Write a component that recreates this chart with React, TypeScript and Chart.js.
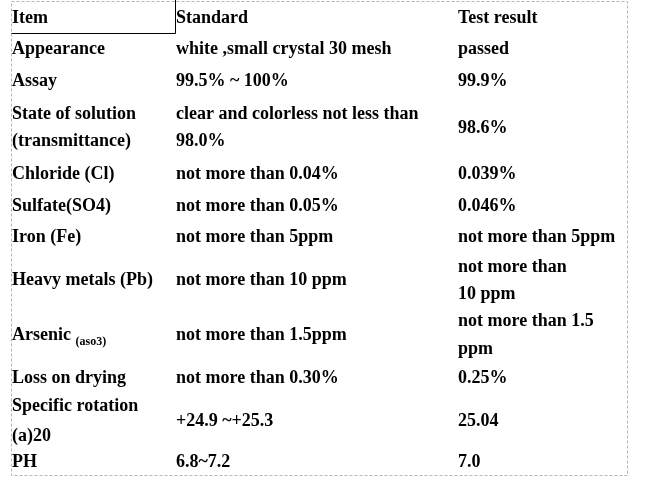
import React, { useEffect, useRef } from "react";
import { Chart, registerables } from "chart.js";

Chart.register(...registerables);

// ---- table content ----
const headers = ["Item", "Standard", "Test result"];
const items: (string | string[])[] = [
  "Appearance",
  "Assay",
  ["State of solution", "(transmittance)"],
  "Chloride (Cl)",
  "Sulfate(SO4)",
  "Iron (Fe)",
  "Heavy metals (Pb)",
  "Arsenic",
  "Loss on drying",
  ["Specific rotation", "(a)20"],
  "PH",
];
const itemSubscripts: string[] = ["", "", "", "", "", "", "", "(aso3)", "", "", ""];
const standards: (string | string[])[] = [
  "white ,small crystal 30 mesh",
  "99.5% ~ 100%",
  ["clear and colorless not less than", "98.0%"],
  "not more than 0.04%",
  "not more than 0.05%",
  "not more than 5ppm",
  "not more than 10 ppm",
  "not more than 1.5ppm",
  "not more than 0.30%",
  "+24.9 ~+25.3",
  "6.8~7.2",
];
const results: (string | string[])[] = [
  "passed",
  "99.9%",
  "98.6%",
  "0.039%",
  "0.046%",
  "not more than 5ppm",
  ["not more than", "10 ppm"],
  ["not more than 1.5", "ppm"],
  "0.25%",
  "25.04",
  "7.0",
];

// ---- layout (scale units) ----
const rowHeights = [31.5, 31.5, 31.5, 62, 31.5, 31.5, 31.5, 54, 55, 31.5, 54, 29.5];
const rowLineGaps = [27, 27, 27, 27, 27, 27, 27, 27, 28, 27, 30, 27];
const colStarts = [1, 165, 447];
const tableWidth = 616;

type Cell = { x: number; y: number; text: string; sub?: string };

function buildCells(): Cell[] {
  const rows: (string | string[])[][] = [headers];
  for (let i = 0; i < items.length; i++) rows.push([items[i], standards[i], results[i]]);
  const cells: Cell[] = [];
  let top = 0;
  rows.forEach((row, r) => {
    const center = top + rowHeights[r] / 2;
    const gap = rowLineGaps[r];
    row.forEach((cell, c) => {
      const lines = Array.isArray(cell) ? cell : [cell];
      lines.forEach((line, li) => {
        const y = center + (li - (lines.length - 1) / 2) * gap;
        const sub = c === 0 && r > 0 ? itemSubscripts[r - 1] : "";
        cells.push({ x: colStarts[c], y, text: line, sub: sub || undefined });
      });
    });
    top += rowHeights[r];
  });
  return cells;
}

const totalHeight = rowHeights.reduce((a, b) => a + b, 0);
const FONT = '"Liberation Serif", "Times New Roman", serif';

const tablePlugin = {
  id: "tableText",
  afterDatasetsDraw(chart: any) {
    const ctx = chart.ctx as CanvasRenderingContext2D;
    const xs = chart.scales.x;
    const ys = chart.scales.y;
    const area = chart.chartArea;
    ctx.save();
    // dashed outer border
    ctx.strokeStyle = "#b4b4b4";
    ctx.lineWidth = 1;
    ctx.setLineDash([3, 2]);
    ctx.beginPath();
    ctx.moveTo(Math.round(area.left) + 0.5, Math.round(area.top) + 0.5);
    ctx.lineTo(Math.round(area.right) + 0.5, Math.round(area.top) + 0.5);
    ctx.lineTo(Math.round(area.right) + 0.5, Math.round(area.bottom) - 0.5);
    ctx.lineTo(Math.round(area.left) + 0.5, Math.round(area.bottom) - 0.5);
    ctx.closePath();
    ctx.stroke();
    // solid box around header cell "Item"
    ctx.setLineDash([]);
    ctx.strokeStyle = "#000";
    const bx = Math.round(xs.getPixelForValue(colStarts[1])) - 0.5;
    const by = Math.round(ys.getPixelForValue(rowHeights[0])) + 0.5;
    ctx.beginPath();
    ctx.moveTo(Math.round(area.left) + 0.5, by);
    ctx.lineTo(bx, by);
    ctx.lineTo(bx, 0);
    ctx.stroke();

    // texts
    const meta = chart.getDatasetMeta(0);
    const data = chart.data.datasets[0].data as Cell[];
    ctx.fillStyle = "#000";
    ctx.textBaseline = "middle";
    ctx.textAlign = "left";
    meta.data.forEach((el: any, i: number) => {
      const d = data[i];
      const ty = el.y + 1.5;
      ctx.font = `bold 18px ${FONT}`;
      ctx.fillText(d.text, el.x, ty);
      if (d.sub) {
        const w = ctx.measureText(d.text + " ").width;
        ctx.font = `bold 12px ${FONT}`;
        ctx.fillText(d.sub, el.x + w, ty + 7);
      }
    });
    ctx.restore();
  },
};

export default function App() {
  const ref = useRef<HTMLCanvasElement>(null);
  useEffect(() => {
    document.body.style.margin = "0";
    const cells = buildCells();
    const chart = new Chart(ref.current!, {
      type: "scatter",
      data: {
        datasets: [
          {
            data: cells as any,
            pointRadius: 0,
            pointHoverRadius: 0,
            showLine: false,
          },
        ],
      },
      options: {
        animation: false,
        responsive: false,
        events: [],
        layout: { padding: { left: 11, right: 21, top: 1, bottom: 2 } },
        plugins: { legend: { display: false }, tooltip: { enabled: false } },
        scales: {
          x: { type: "linear", min: 0, max: tableWidth, display: false },
          y: { type: "linear", min: 0, max: totalHeight, reverse: true, display: false },
        },
      },
      plugins: [tablePlugin],
    });
    return () => chart.destroy();
  }, []);
  return (
    <div style={{ width: 648, height: 478, background: "#fff" }}>
      <canvas ref={ref} width={648} height={478} />
    </div>
  );
}
